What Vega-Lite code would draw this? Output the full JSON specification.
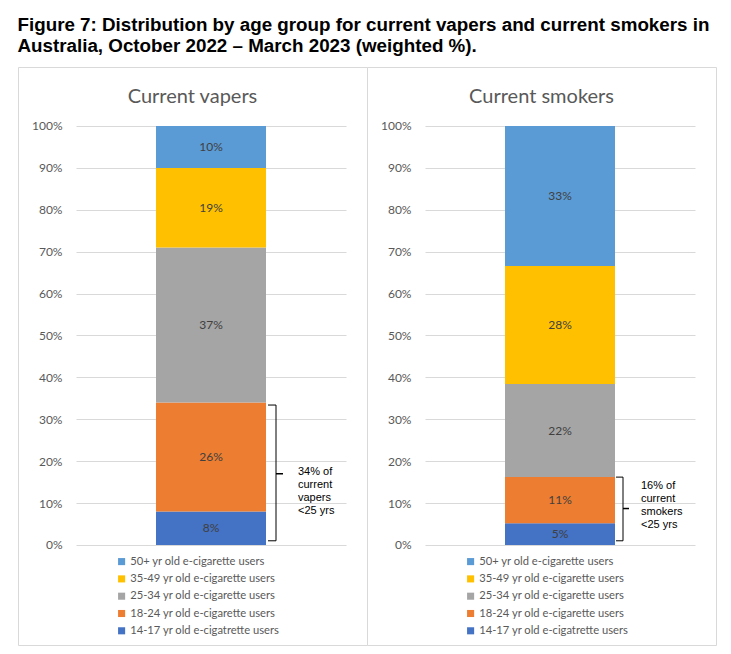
{
  "$schema": "https://vega.github.io/schema/vega-lite/v6.json",
  "description": "Distribution by age group for current vapers and current smokers, Australia, Oct 2022 - Mar 2023.",
  "background": "white",
  "padding": {"left": 17, "top": 16, "right": 0, "bottom": 0},
  "title": {
    "text": [
      "Figure 7: Distribution by age group for current vapers and current smokers in",
      "Australia, October 2022 \u2013 March 2023 (weighted %)."
    ],
    "anchor": "start",
    "font": "Liberation Sans",
    "fontSize": 18.8,
    "fontWeight": "bold",
    "color": "#000000",
    "lineHeight": 21,
    "offset": 10.6
  },
  "datasets": {
    "ages": [
      {"panel": "Current vapers", "k": 1, "group": "14-17 yr old e-cigatrette users", "pct": 0.08},
      {"panel": "Current vapers", "k": 2, "group": "18-24 yr old e-cigarette users", "pct": 0.26},
      {"panel": "Current vapers", "k": 3, "group": "25-34 yr old e-cigarette users", "pct": 0.37},
      {"panel": "Current vapers", "k": 4, "group": "35-49 yr old e-cigarette users", "pct": 0.19},
      {"panel": "Current vapers", "k": 5, "group": "50+ yr old e-cigarette users", "pct": 0.10},
      {"panel": "Current smokers", "k": 1, "group": "14-17 yr old e-cigatrette users", "pct": 0.052},
      {"panel": "Current smokers", "k": 2, "group": "18-24 yr old e-cigarette users", "pct": 0.11},
      {"panel": "Current smokers", "k": 3, "group": "25-34 yr old e-cigarette users", "pct": 0.222},
      {"panel": "Current smokers", "k": 4, "group": "35-49 yr old e-cigarette users", "pct": 0.282},
      {"panel": "Current smokers", "k": 5, "group": "50+ yr old e-cigarette users", "pct": 0.334}
    ],
    "notes": [
      {"panel": "Current vapers", "lo": 0.01, "hi": 0.334, "mid": 0.17, "note": "34% of\ncurrent\nvapers\n<25 yrs"},
      {"panel": "Current smokers", "lo": 0.01, "hi": 0.162, "mid": 0.087, "note": "16% of\ncurrent\nsmokers\n<25 yrs"}
    ]
  },
  "spacing": 0,
  "bounds": "flush",
  "resolve": {
    "scale": {"x": "independent", "y": "independent", "color": "independent"},
    "legend": {"color": "independent"}
  },
  "hconcat": [
    {
      "width": 349,
      "height": 578,
      "title": {"text": "Current vapers", "font": "Lato", "fontSize": 20, "fontWeight": "normal", "color": "#595959", "anchor": "middle", "offset": -40},
      "layer": [
        {
          "data": {"name": "ages"},
          "transform": [{"filter": "datum.panel === 'Current vapers'"}],
          "mark": {"type": "bar", "width": 110},
          "encoding": {
            "x": {"field": "panel", "type": "nominal", "axis": null, "scale": {"range": [58, 328]}},
            "y": {
              "field": "pct", "type": "quantitative", "stack": "zero",
              "scale": {"domain": [-0.2387, 1.1408], "nice": false, "zero": false},
              "axis": {"values": [0, 0.1, 0.2, 0.3, 0.4, 0.5, 0.6, 0.7, 0.8, 0.9, 1], "format": ".0%", "title": null, "domain": false, "ticks": false, "grid": true, "gridColor": "#d9d9d9", "labelFont": "Lato", "labelFontSize": 12, "labelColor": "#595959", "labelPadding": 4, "offset": -48}
            },
            "color": {
              "field": "group", "type": "nominal",
              "scale": {
                "domain": ["50+ yr old e-cigarette users", "35-49 yr old e-cigarette users", "25-34 yr old e-cigarette users", "18-24 yr old e-cigarette users", "14-17 yr old e-cigatrette users"],
                "range": ["#5B9BD5", "#FFC000", "#A5A5A5", "#ED7D31", "#4472C4"]
              },
              "legend": {"orient": "none", "legendX": 98, "legendY": 489, "title": null, "padding": 0, "symbolType": "square", "symbolSize": 50, "symbolStrokeWidth": 0, "labelFont": "Lato", "labelFontSize": 11.2, "labelColor": "#595959", "labelOffset": 3, "rowPadding": 5.3}
            },
            "order": {"field": "k", "type": "quantitative"}
          }
        },
        {
          "data": {"name": "ages"},
          "transform": [{"filter": "datum.panel === 'Current vapers'"}],
          "mark": {"type": "text", "font": "Lato", "fontSize": 12, "color": "#404040"},
          "encoding": {
            "x": {"field": "panel", "type": "nominal"},
            "y": {"field": "pct", "type": "quantitative", "stack": "zero", "bandPosition": 0.5},
            "text": {"field": "pct", "format": ".0%"},
            "order": {"field": "k", "type": "quantitative"}
          }
        },
        {
          "data": {"name": "notes"},
          "transform": [{"filter": "datum.panel === 'Current vapers'"}],
          "layer": [
            {
              "mark": {"type": "rule", "color": "#000000", "strokeWidth": 1, "xOffset": 65},
              "encoding": {"x": {"field": "panel", "type": "nominal"}, "y": {"field": "lo", "type": "quantitative"}, "y2": {"field": "hi"}}
            },
            {
              "mark": {"type": "rule", "color": "#000000", "strokeWidth": 1, "xOffset": 57, "x2Offset": 65},
              "encoding": {"x": {"field": "panel", "type": "nominal"}, "x2": {"field": "panel"}, "y": {"field": "hi", "type": "quantitative"}}
            },
            {
              "mark": {"type": "rule", "color": "#000000", "strokeWidth": 1, "xOffset": 57, "x2Offset": 65},
              "encoding": {"x": {"field": "panel", "type": "nominal"}, "x2": {"field": "panel"}, "y": {"field": "lo", "type": "quantitative"}}
            },
            {
              "mark": {"type": "rule", "color": "#000000", "strokeWidth": 1.5, "xOffset": 65, "x2Offset": 72},
              "encoding": {"x": {"field": "panel", "type": "nominal"}, "x2": {"field": "panel"}, "y": {"field": "mid", "type": "quantitative"}}
            },
            {
              "mark": {"type": "text", "font": "Liberation Sans", "fontSize": 11, "color": "#000000", "align": "left", "baseline": "top", "dx": 87, "dy": -8, "lineBreak": "\n", "lineHeight": 13},
              "encoding": {"x": {"field": "panel", "type": "nominal"}, "y": {"field": "mid", "type": "quantitative"}, "text": {"field": "note"}}
            }
          ]
        }
      ]
    },
    {
      "width": 349,
      "height": 578,
      "title": {"text": "Current smokers", "font": "Lato", "fontSize": 20, "fontWeight": "normal", "color": "#595959", "anchor": "middle", "offset": -40},
      "layer": [
        {
          "data": {"name": "ages"},
          "transform": [{"filter": "datum.panel === 'Current smokers'"}],
          "mark": {"type": "bar", "width": 110},
          "encoding": {
            "x": {"field": "panel", "type": "nominal", "axis": null, "scale": {"range": [58, 328]}},
            "y": {
              "field": "pct", "type": "quantitative", "stack": "zero",
              "scale": {"domain": [-0.2387, 1.1408], "nice": false, "zero": false},
              "axis": {"values": [0, 0.1, 0.2, 0.3, 0.4, 0.5, 0.6, 0.7, 0.8, 0.9, 1], "format": ".0%", "title": null, "domain": false, "ticks": false, "grid": true, "gridColor": "#d9d9d9", "labelFont": "Lato", "labelFontSize": 12, "labelColor": "#595959", "labelPadding": 4, "offset": -48}
            },
            "color": {
              "field": "group", "type": "nominal",
              "scale": {
                "domain": ["50+ yr old e-cigarette users", "35-49 yr old e-cigarette users", "25-34 yr old e-cigarette users", "18-24 yr old e-cigarette users", "14-17 yr old e-cigatrette users"],
                "range": ["#5B9BD5", "#FFC000", "#A5A5A5", "#ED7D31", "#4472C4"]
              },
              "legend": {"orient": "none", "legendX": 98, "legendY": 489, "title": null, "padding": 0, "symbolType": "square", "symbolSize": 50, "symbolStrokeWidth": 0, "labelFont": "Lato", "labelFontSize": 11.2, "labelColor": "#595959", "labelOffset": 3, "rowPadding": 5.3}
            },
            "order": {"field": "k", "type": "quantitative"}
          }
        },
        {
          "data": {"name": "ages"},
          "transform": [{"filter": "datum.panel === 'Current smokers'"}],
          "mark": {"type": "text", "font": "Lato", "fontSize": 12, "color": "#404040"},
          "encoding": {
            "x": {"field": "panel", "type": "nominal"},
            "y": {"field": "pct", "type": "quantitative", "stack": "zero", "bandPosition": 0.5},
            "text": {"field": "pct", "format": ".0%"},
            "order": {"field": "k", "type": "quantitative"}
          }
        },
        {
          "data": {"name": "notes"},
          "transform": [{"filter": "datum.panel === 'Current smokers'"}],
          "layer": [
            {
              "mark": {"type": "rule", "color": "#000000", "strokeWidth": 1, "xOffset": 63},
              "encoding": {"x": {"field": "panel", "type": "nominal"}, "y": {"field": "lo", "type": "quantitative"}, "y2": {"field": "hi"}}
            },
            {
              "mark": {"type": "rule", "color": "#000000", "strokeWidth": 1, "xOffset": 56, "x2Offset": 63},
              "encoding": {"x": {"field": "panel", "type": "nominal"}, "x2": {"field": "panel"}, "y": {"field": "hi", "type": "quantitative"}}
            },
            {
              "mark": {"type": "rule", "color": "#000000", "strokeWidth": 1, "xOffset": 56, "x2Offset": 63},
              "encoding": {"x": {"field": "panel", "type": "nominal"}, "x2": {"field": "panel"}, "y": {"field": "lo", "type": "quantitative"}}
            },
            {
              "mark": {"type": "rule", "color": "#000000", "strokeWidth": 1.5, "xOffset": 63, "x2Offset": 69},
              "encoding": {"x": {"field": "panel", "type": "nominal"}, "x2": {"field": "panel"}, "y": {"field": "mid", "type": "quantitative"}}
            },
            {
              "mark": {"type": "text", "font": "Liberation Sans", "fontSize": 11, "color": "#000000", "align": "left", "baseline": "top", "dx": 81, "dy": -29, "lineBreak": "\n", "lineHeight": 13},
              "encoding": {"x": {"field": "panel", "type": "nominal"}, "y": {"field": "mid", "type": "quantitative"}, "text": {"field": "note"}}
            }
          ]
        }
      ]
    }
  ],
  "config": {
    "view": {"stroke": "#d9d9d9", "strokeWidth": 1, "fill": "white"}
  }
}
